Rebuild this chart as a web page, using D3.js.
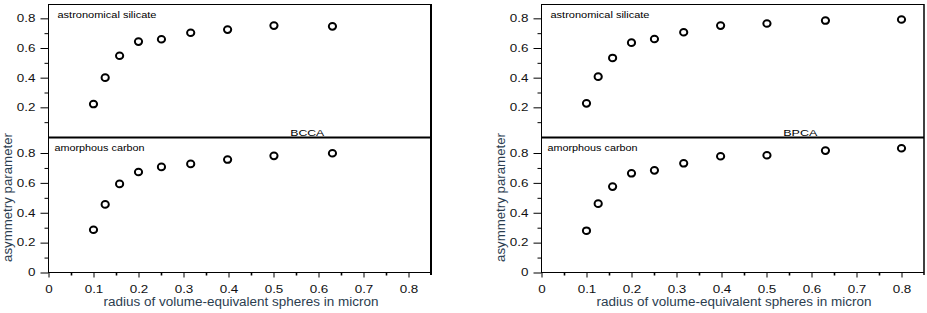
<!DOCTYPE html>
<html>
<head>
<meta charset="utf-8">
<script src="https://cdn.jsdelivr.net/npm/d3@7"></script>
<style>
  html, body { margin: 0; padding: 0; background: #fff; }
  svg { display: block; font-family: "Liberation Sans", Arial, sans-serif; }
</style>
</head>
<body>
<div id="chart"></div>
<script>
// radius of volume-equivalent spheres (micron)
const radiusBCCA = [0.1, 0.126, 0.158, 0.2, 0.251, 0.316, 0.398, 0.501, 0.631];
const radiusBPCA = [0.1, 0.126, 0.158, 0.2, 0.251, 0.316, 0.398, 0.501, 0.631, 0.8];

// asymmetry parameter
const bccaSilicate = [0.222, 0.40, 0.548, 0.643, 0.659, 0.703, 0.724, 0.751, 0.746];
const bccaCarbon   = [0.286, 0.456, 0.593, 0.673, 0.707, 0.727, 0.756, 0.781, 0.798];
const bpcaSilicate = [0.227, 0.407, 0.533, 0.636, 0.661, 0.706, 0.751, 0.765, 0.785, 0.792];
const bpcaCarbon   = [0.280, 0.461, 0.575, 0.664, 0.684, 0.731, 0.778, 0.785, 0.816, 0.832];

const xMajor = [0, 0.1, 0.2, 0.3, 0.4, 0.5, 0.6, 0.7, 0.8];
const xMinor = [0.05, 0.15, 0.25, 0.35, 0.45, 0.55, 0.65, 0.75];
const yTopMajor = [0.2, 0.4, 0.6, 0.8];
const yBotMajor = [0, 0.2, 0.4, 0.6, 0.8];
const yMinor = [0.1, 0.3, 0.5, 0.7];

const W = 927, H = 313;
const SX = 1.28; // the picture is stretched sideways, so is its text
const titleCol = '#2b3d4f';

const svg = d3.select('#chart').append('svg')
    .attr('width', W)
    .attr('height', H)

const fmt = d => d === 0 ? '0' : d.toFixed(1)

function drawChart(x0, radius, silicate, carbon, tag, rightW) {
    const x1 = x0 + 382.5
    const x = d3.scaleLinear().domain([0, 0.85]).range([x0, x1])
    const yTop = d3.scaleLinear().domain([0, 0.9]).range([137, 3.5])
    const yBot = d3.scaleLinear().domain([0, 0.8]).range([272.5, 153])

    const g = svg.append('g')

    //axes
    const yAxisTop = g.append('g').attr('transform', `translate(${x0},0)`)
        .call(d3.axisLeft(yTop).tickValues(yTopMajor).tickSize(8).tickPadding(3).tickFormat(fmt))
    const yAxisTopMinor = g.append('g').attr('transform', `translate(${x0},0)`)
        .call(d3.axisLeft(yTop).tickValues(yMinor).tickSize(4).tickFormat(''))
    const yAxisBot = g.append('g').attr('transform', `translate(${x0},0)`)
        .call(d3.axisLeft(yBot).tickValues(yBotMajor).tickSize(8).tickPadding(3).tickFormat(fmt))
    const yAxisBotMinor = g.append('g').attr('transform', `translate(${x0},0)`)
        .call(d3.axisLeft(yBot).tickValues(yMinor).tickSize(4).tickFormat(''))
    const xAxis = g.append('g').attr('transform', `translate(0,272.5)`)
        .call(d3.axisBottom(x).tickValues(xMajor).tickSize(5).tickPadding(8).tickFormat(fmt))
    const xAxisMinor = g.append('g').attr('transform', `translate(0,272.5)`)
        .call(d3.axisBottom(x).tickValues(xMinor).tickSize(3).tickFormat(''))

    ;[yAxisTop, yAxisTopMinor, yAxisBot, yAxisBotMinor, xAxis, xAxisMinor].forEach(a => {
        a.select('.domain').remove()
        a.selectAll('line').attr('stroke', '#000')
        a.selectAll('text')
            .attr('fill', '#111')
            .style('font-size', '10.5px')
            .style('font-family', '"Liberation Sans", Arial, sans-serif')
    })
    xAxisMinor.selectAll('line').attr('stroke-width', 1.6)
    // stretch tick labels sideways
    ;[yAxisTop, yAxisBot].forEach(a => {
        a.selectAll('text').attr('x', -13 / SX).attr('transform', `scale(${SX},1)`)
    })
    xAxis.selectAll('text').attr('transform', `scale(${SX},1)`)

    //frame
    g.append('line').attr('x1', x0).attr('x2', x1).attr('y1', 4.5).attr('y2', 4.5)
        .attr('stroke', '#000').attr('stroke-width', 1)
    g.append('line').attr('x1', x0).attr('x2', x0).attr('y1', 4).attr('y2', 273)
        .attr('stroke', '#000').attr('stroke-width', 1)
    g.append('line').attr('x1', x0 - 0.5).attr('x2', x1).attr('y1', 272.5).attr('y2', 272.5)
        .attr('stroke', '#000').attr('stroke-width', 1)
    g.append('line').attr('x1', x0).attr('x2', x1).attr('y1', 137.5).attr('y2', 137.5)
        .attr('stroke', '#000').attr('stroke-width', 2)
    g.append('line').attr('x1', x1).attr('x2', x1).attr('y1', 4).attr('y2', 275)
        .attr('stroke', '#000').attr('stroke-width', rightW)

    //panel labels
    g.append('text').attr('x', x0 + 9).attr('y', 17.5)
        .attr('textLength', 99).attr('lengthAdjust', 'spacingAndGlyphs')
        .style('font-size', '9.5px').attr('fill', '#000')
        .text('astronomical silicate')
    g.append('text').attr('x', x0 + 6).attr('y', 151)
        .attr('textLength', 90).attr('lengthAdjust', 'spacingAndGlyphs')
        .style('font-size', '9.5px').attr('fill', '#000')
        .text('amorphous carbon')
    g.append('text').attr('x', x(0.575) - 17).attr('y', 135.5)
        .attr('textLength', 34).attr('lengthAdjust', 'spacingAndGlyphs')
        .style('font-size', '9.5px').attr('fill', '#000')
        .text(tag)

    //titles
    g.append('text').attr('x', x0 + 55).attr('y', 306)
        .attr('textLength', 275).attr('lengthAdjust', 'spacingAndGlyphs')
        .style('font-size', '12.5px').attr('fill', titleCol)
        .text('radius of volume-equivalent spheres in micron')
    g.append('text')
        .attr('transform', `translate(${x0 - 36.5},262) rotate(-90)`)
        .attr('textLength', 129).attr('lengthAdjust', 'spacingAndGlyphs')
        .style('font-size', '12px').attr('fill', titleCol)
        .text('asymmetry parameter')

    //markers
    const dot = (sel, ys, yScale) => sel.selectAll(null)
        .data(radius.map((r, i) => ({r, v: ys[i]})))
        .enter().append('ellipse')
        .attr('cx', d => x(d.r))
        .attr('cy', d => yScale(d.v))
        .attr('rx', 3.6)
        .attr('ry', 3.3)
        .attr('fill', '#fff')
        .attr('stroke', '#000')
        .attr('stroke-width', 2)
    dot(g.append('g'), silicate, yTop)
    dot(g.append('g'), carbon, yBot)
}

drawChart(48.5, radiusBCCA, bccaSilicate, bccaCarbon, 'BCCA', 2)
drawChart(541.5, radiusBPCA, bpcaSilicate, bpcaCarbon, 'BPCA', 1.5)
</script>
</body>
</html>
